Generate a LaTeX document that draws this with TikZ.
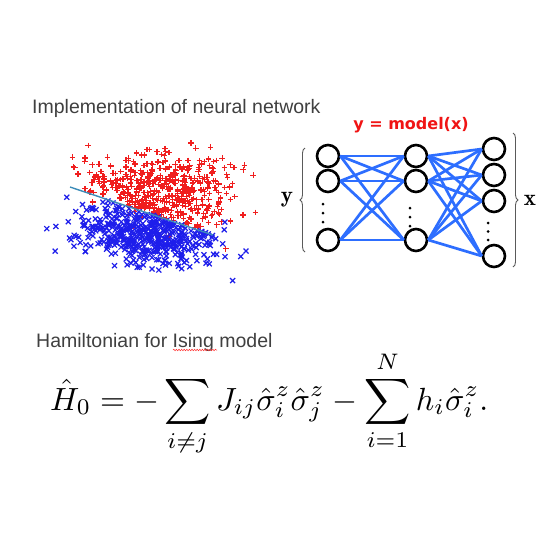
\documentclass[tikz,border=0pt]{standalone}
\usepackage{fontspec}
\usepackage{amsmath}
\newfontfamily\arialf{Liberation Sans}
\newfontfamily\verdf{DejaVu Sans}
\usetikzlibrary{decorations.pathreplacing,decorations.pathmorphing}
\definecolor{titlegray}{RGB}{64,64,64}
\definecolor{ptred}{RGB}{240,30,30}
\definecolor{ptblue}{RGB}{30,30,235}
\definecolor{edgeblue}{RGB}{45,110,255}
\definecolor{sepline}{RGB}{60,140,185}
\definecolor{bracegray}{RGB}{90,90,90}
\definecolor{modelred}{RGB}{240,20,20}
\begin{document}
\begin{tikzpicture}[x=1pt,y=-1pt,
  heading/.style={anchor=base west,inner sep=0pt,text=titlegray,font=\arialf\fontsize{19.5}{23}\selectfont},
  neuron/.style={circle,draw=black,line width=2.6pt,minimum size=22pt,inner sep=0pt,fill=white},
  edge/.style={draw=edgeblue,line width=2.7pt},
  redpt/.style={draw=ptred,line width=1.25pt},
  bluept/.style={draw=ptblue,line width=1.2pt},
  bracestyle/.style={draw=bracegray,line width=0.9pt,decorate,decoration={brace,amplitude=5pt}},
  vecl/.style={inner sep=0pt,font=\fontsize{23}{26}\selectfont}
]
\useasboundingbox[fill=white] (0,0) rectangle (560,560);

% headings
\node[heading] (title1) at (32,113) {Implementation of neural network};
\node[heading] (title2) at (36,347) {Hamiltonian for Ising model};
\coordinate (wavyA) at (173,350);
\coordinate (wavyB) at (217,350);
\draw[red!80,line width=0.5pt,decorate,decoration={snake,amplitude=0.8pt,segment length=2.6pt}] (wavyA) -- (wavyB);

% scatter plot
\pgfmathsetseed{4242}
\foreach \i in {1,...,460}{
  \pgfmathsetmacro{\px}{160+36*(rand+rand+rand)}
  \pgfmathsetmacro{\py}{193+21*(rand+rand+rand)}
  \pgfmathsetmacro{\yl}{187+0.3357*(\px-70)}
  \pgfmathsetmacro{\py}{((\py>\yl) && (\px>70) && (\px<215) && (rand>-0.8)) ? (2*\yl-\py) : \py}
  \draw[redpt] (\px-2.8,\py) -- (\px+2.8,\py) (\px,\py-2.8) -- (\px,\py+2.8);
}
\foreach \i in {1,...,470}{
  \pgfmathsetmacro{\px}{145+35*(rand+rand+rand)}
  \pgfmathsetmacro{\py}{234+0.12*(\px-145)+15*(rand+rand+rand)}
  \pgfmathsetmacro{\yl}{187+0.3357*(\px-70)}
  \pgfmathsetmacro{\py}{((\py<\yl) && (\px>70) && (\px<215)) ? (2*\yl-\py) : \py}
  \draw[bluept] (\px-2.5,\py-2.5) -- (\px+2.5,\py+2.5) (\px-2.5,\py+2.5) -- (\px+2.5,\py-2.5);
}
\coordinate (sepA) at (70,187);
\coordinate (sepB) at (213,235);
\draw[sepline,line width=1.4pt] (sepA) -- (sepB);

% network
\node[font=\verdf\bfseries\fontsize{16}{19}\selectfont,text=modelred,inner sep=0pt] (model) at (411,125) {y = model(x)};

\node[neuron] (a1) at (328,156) {};
\node[neuron] (a2) at (328,181) {};
\node[neuron] (a3) at (328,240) {};
\node[neuron] (b1) at (416,156) {};
\node[neuron] (b2) at (416,181) {};
\node[neuron] (b3) at (416,240) {};
\node[neuron] (c1) at (494,149) {};
\node[neuron] (c2) at (494,175) {};
\node[neuron] (c3) at (494,201) {};
\node[neuron] (c4) at (494,256) {};

\foreach \i in {1,2,3}{
  \foreach \j in {1,2,3}{
    \draw[edge] (a\i.east) -- (b\j.west);
  }
  \foreach \j in {1,2,3,4}{
    \draw[edge] (b\i.east) -- (c\j.west);
  }
}

% vertical dots
\foreach \y in {204,213,222}{ \fill (323,\y) circle (1.5); }
\foreach \y in {208,217,226}{ \fill (410,\y) circle (1.5); }
\foreach \y in {223,231.5,240}{ \fill (488,\y) circle (1.5); }

% braces and labels
\coordinate (lbA) at (305,252);
\coordinate (lbB) at (305,148);
\draw[bracestyle] (lbA) -- (lbB);
\coordinate (rbA) at (513,133);
\coordinate (rbB) at (513,267);
\draw[bracestyle] (rbA) -- (rbB);
\node[vecl] (ylab) at (287,200) {$\mathbf{y}$};
\node[vecl] (xlab) at (530,200) {$\mathbf{x}$};

% Hamiltonian
\node[anchor=base west,inner sep=0pt] (ham) at (50,410) {\resizebox{438pt}{!}{$\displaystyle \hat{H}_0 = -\sum_{i\neq j} J_{ij}\hat{\sigma}_i^z\hat{\sigma}_j^z - \sum_{i=1}^{N} h_i\hat{\sigma}_i^z.$}};
\end{tikzpicture}
\end{document}
